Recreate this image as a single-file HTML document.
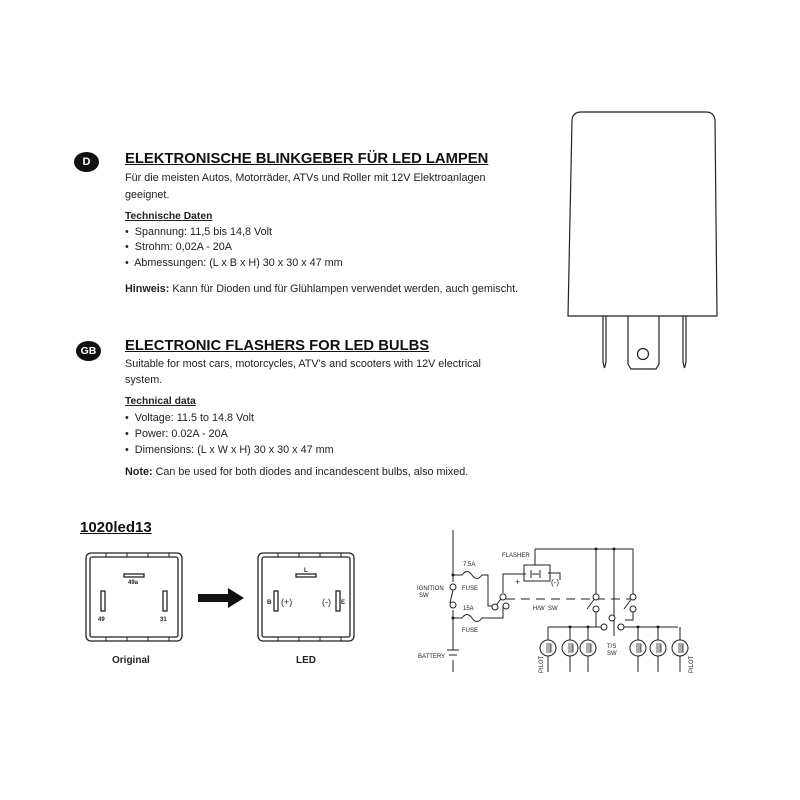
<!DOCTYPE html>
<html><head><meta charset="utf-8"><style>
body{margin:0;background:#fff;}
#p{position:relative;width:800px;height:800px;overflow:hidden;font-family:"Liberation Sans",sans-serif;color:#222;}
.t{position:absolute;white-space:nowrap;font-size:10.8px;}
.h{position:absolute;white-space:nowrap;font-size:14.8px;font-weight:bold;text-decoration:underline;color:#111;}
.s{position:absolute;white-space:nowrap;font-size:10.3px;font-weight:bold;text-decoration:underline;}
.b{position:absolute;background:#111;color:#fff;font-weight:bold;font-size:11px;text-align:center;border-radius:50%;}
</style></head><body><div id="p">
<div class="b" style="left:74px;top:152px;width:25px;height:20px;line-height:20px;">D</div>
<div class="h" style="left:125px;top:151px;">ELEKTRONISCHE BLINKGEBER FÜR LED LAMPEN</div>
<div class="t" style="left:125px;top:172px;">Für die meisten Autos, Motorräder, ATVs und Roller mit 12V Elektroanlagen</div>
<div class="t" style="left:125px;top:189px;">geeignet.</div>
<div class="s" style="left:125px;top:211px;">Technische Daten</div>
<div class="t" style="left:125px;top:226px;">•&nbsp; Spannung: 11,5 bis 14,8 Volt</div>
<div class="t" style="left:125px;top:241px;">•&nbsp; Strohm: 0,02A - 20A</div>
<div class="t" style="left:125px;top:257px;">•&nbsp; Abmessungen: (L x B x H) 30 x 30 x 47 mm</div>
<div class="t" style="left:125px;top:283px;"><b>Hinweis:</b> Kann für Dioden und für Glühlampen verwendet werden, auch gemischt.</div>

<div class="b" style="left:76px;top:341px;width:25px;height:20px;line-height:20px;font-size:10.5px;">GB</div>
<div class="h" style="left:125px;top:338px;">ELECTRONIC FLASHERS FOR LED BULBS</div>
<div class="t" style="left:125px;top:358px;">Suitable for most cars, motorcycles, ATV's and scooters with 12V electrical</div>
<div class="t" style="left:125px;top:374px;">system.</div>
<div class="s" style="left:125px;top:396px;">Technical data</div>
<div class="t" style="left:125px;top:412px;">•&nbsp; Voltage: 11.5 to 14.8 Volt</div>
<div class="t" style="left:125px;top:428px;">•&nbsp; Power: 0.02A - 20A</div>
<div class="t" style="left:125px;top:444px;">•&nbsp; Dimensions: (L x W x H) 30 x 30 x 47 mm</div>
<div class="t" style="left:125px;top:466px;"><b>Note:</b> Can be used for both diodes and incandescent bulbs, also mixed.</div>

<div class="h" style="left:80px;top:519px;font-size:15px;">1020led13</div>
<div class="t" style="left:112px;top:655px;font-weight:bold;font-size:10px;">Original</div>
<div class="t" style="left:296px;top:655px;font-weight:bold;font-size:10px;">LED</div>

<svg width="800" height="800" style="position:absolute;left:0;top:0" font-family="Liberation Sans,sans-serif">
<g fill="none" stroke="#222" stroke-width="1.2">
<path d="M568,316 L572,120 Q573,112 581,112 L706,112 Q714,112 715,120 L717,316 Z"/>
<path d="M603,316 V362 L604.5,368 L606,362 V316"/>
<path d="M683,316 V362 L684.5,368 L686,362 V316"/>
<path d="M628,316 V364 L631,369 H656 L659,364 V316"/>
<circle cx="643" cy="354" r="5.5"/>
</g>
<g fill="none" stroke="#222" stroke-width="1.3">
<rect x="86" y="553" width="96" height="88" rx="5"/>
<rect x="90" y="557" width="88" height="80" rx="2"/>
<rect x="258" y="553" width="96" height="88" rx="5"/>
<rect x="262" y="557" width="88" height="80" rx="2"/>
<rect x="124" y="574" width="20" height="3"/>
<rect x="101" y="591" width="4" height="20"/>
<rect x="163" y="591" width="4" height="20"/>
<rect x="296" y="574" width="20" height="3"/>
<rect x="274" y="591" width="4" height="20"/>
<rect x="336" y="591" width="4" height="20"/>
</g>
<g stroke="#222" stroke-width="1">
<path d="M106,553V557M127,553V557M148,553V557M169,553V557M106,637V641M127,637V641M148,637V641M169,637V641"/>
<path d="M278,553V557M299,553V557M320,553V557M341,553V557M278,637V641M299,637V641M320,637V641M341,637V641"/>
</g>
<g font-size="6" font-weight="bold" fill="#222">
<text x="128" y="584">49a</text><text x="98" y="621">49</text><text x="160" y="621">31</text>
<text x="304" y="572">L</text><text x="267" y="604">B</text><text x="341" y="604">E</text>
</g>
<g font-size="9" fill="#222"><text x="281" y="605">(+)</text><text x="322" y="605">(-)</text></g>
<path d="M198,594 H228 V588 L244,598 L228,608 V602 H198 Z" fill="#111"/>

<g fill="none" stroke="#222" stroke-width="1">
<path d="M453,530 V582 M453,610 V650 M453,660 V672"/>
<path d="M447,650 H459 M449,655 H457"/>
<path d="M453,590 L450,603"/>
<path d="M453,575 H462 Q467,568 472,575 Q477,582 482,575 H488 V606 H493"/>
<path d="M453,618 H462 Q467,611 472,618 Q477,625 482,618 H503 V606"/>
<path d="M495,607 L503,596 M503,593 V574 H526"/>
<path d="M524,565 H550 V581 H524 Z M535,549 V565 M535,549 H633 V598 M596,549 V595 M614,549 V616 M548,573 H560 V580"/>
<path d="M531,570 V578 M540,570 V578 M532,574 H539"/>
<path d="M506,599 H630" stroke-dasharray="9,6"/>
<path d="M587,609 L596,597 M624,609 L633,597"/>
<path d="M596,612 V627 H602 M548,627 H602 M614,627 V616 M614,617 V636 M617,627 H678 M633,612 V620 H625"/>
<path d="M548,627 V640 M570,627 V640 M588,627 V640 M638,627 V640 M658,627 V640 M680,627 V640"/>
<path d="M548,656 V672 M570,656 V672 M588,656 V672 M638,656 V672 M658,656 V672 M680,656 V672"/>
</g>
<g fill="#fff" stroke="#222" stroke-width="1">
<circle cx="453" cy="587" r="3"/><circle cx="453" cy="605" r="3"/>
<circle cx="495" cy="607" r="3"/><circle cx="503" cy="597" r="3"/><circle cx="506" cy="606" r="3"/>
<circle cx="596" cy="597" r="3"/><circle cx="596" cy="609" r="3"/>
<circle cx="633" cy="597" r="3"/><circle cx="633" cy="609" r="3"/>
<circle cx="604" cy="627" r="3"/><circle cx="621" cy="627" r="3"/><circle cx="612" cy="618" r="3"/>
<circle cx="548" cy="648" r="8"/><circle cx="570" cy="648" r="8"/><circle cx="588" cy="648" r="8"/>
<circle cx="638" cy="648" r="8"/><circle cx="658" cy="648" r="8"/><circle cx="680" cy="648" r="8"/>
</g>
<g stroke="#222" stroke-width="0.8" fill="none">
<path d="M546,644h5v8h-5M546,646h5M546,648h5M546,650h5"/>
<path d="M568,644h5v8h-5M568,646h5M568,648h5M568,650h5"/>
<path d="M586,644h5v8h-5M586,646h5M586,648h5M586,650h5"/>
<path d="M636,644h5v8h-5M636,646h5M636,648h5M636,650h5"/>
<path d="M656,644h5v8h-5M656,646h5M656,648h5M656,650h5"/>
<path d="M678,644h5v8h-5M678,646h5M678,648h5M678,650h5"/>
</g>
<g fill="#222"><circle cx="453" cy="575" r="1.5"/><circle cx="453" cy="618" r="1.5"/><circle cx="596" cy="549" r="1.5"/><circle cx="614" cy="549" r="1.5"/><circle cx="570" cy="627" r="1.5"/><circle cx="588" cy="627" r="1.5"/><circle cx="638" cy="627" r="1.5"/><circle cx="658" cy="627" r="1.5"/></g>
<g font-size="6" fill="#222">
<text x="463" y="566">7.5A</text><text x="462" y="590">FUSE</text><text x="463" y="610">15A</text><text x="462" y="632">FUSE</text>
<text x="417" y="590">IGNITION</text><text x="419" y="597">SW</text><text x="418" y="658">BATTERY</text>
<text x="502" y="557">FLASHER</text><text x="515" y="585" font-size="9">+</text><text x="551" y="585" font-size="8">(-)</text>
<text x="533" y="610">H/W&#160; SW</text><text x="607" y="648">T/S</text><text x="607" y="655">SW</text>
<text transform="translate(543,673) rotate(-90)">PILOT</text><text transform="translate(693,673) rotate(-90)">PILOT</text>
</g>
</svg>
</div></body></html>
